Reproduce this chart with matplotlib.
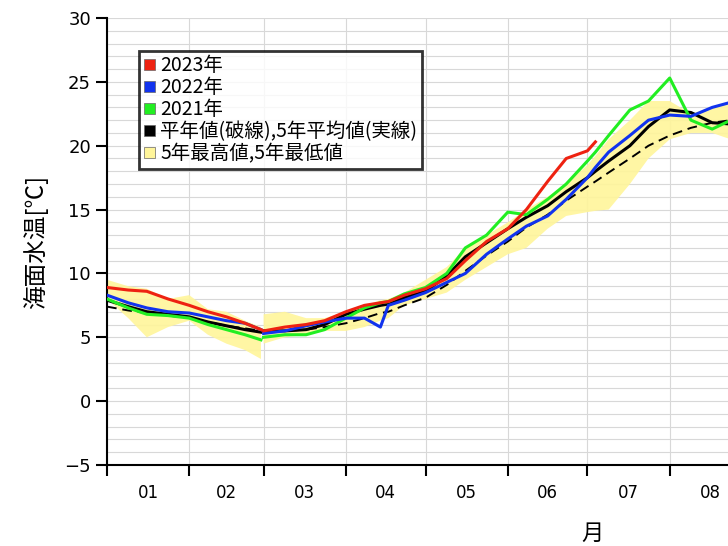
import numpy as np
import matplotlib.pyplot as plt
from matplotlib.patches import Patch

plt.rcParams['font.family'] = ['Noto Sans CJK JP', 'DejaVu Sans']

# day-of-year positions (Jan 1 = 0); NaN marks the break at end of Feb
days = [0, 8, 15, 23, 31, 38, 45, 52, 58, 58.5,
        59, 67, 75, 82, 90, 97, 103, 106, 112, 120, 128, 135, 143, 151, 158, 166,
        173, 181, 184, 189, 197, 204, 212, 220, 228, 235, 243]
nan = np.nan

sst_2023 = [8.9, 8.7, 8.6, 8.0, 7.5, 7.0, 6.6, 6.1, 5.6, nan,
            5.5, 5.8, 6.0, 6.3, 7.0, 7.5, 7.7, 7.8, 8.3, 8.8, 9.6, 11.0, 12.5, 13.5, 15.0, 17.2,
            19.0, 19.6, 20.3, nan, nan, nan, nan, nan, nan, nan, nan]
sst_2022 = [8.3, 7.7, 7.3, 7.0, 6.9, 6.6, 6.3, 6.1, 5.6, nan,
            5.3, 5.5, 5.9, 6.2, 6.5, 6.5, 5.8, 7.5, 7.9, 8.5, 9.3, 10.0, 11.5, 12.7, 13.7, 14.5,
            15.8, 17.5, 18.3, 19.5, 20.8, 22.0, 22.4, 22.3, 23.0, 23.4, 22.6]
sst_2021 = [8.0, 7.3, 6.8, 6.7, 6.5, 6.0, 5.6, 5.2, 4.8, nan,
            5.0, 5.2, 5.2, 5.6, 6.5, 7.3, 7.7, 7.8, 8.4, 8.9, 10.0, 12.0, 13.0, 14.8, 14.6, 15.8,
            17.0, 18.8, 19.5, 20.8, 22.8, 23.5, 25.3, 22.0, 21.3, 22.0, 21.9]
avg5 = [7.9, 7.4, 7.0, 6.8, 6.6, 6.2, 5.9, 5.6, 5.4, nan,
        5.5, 5.5, 5.6, 6.0, 6.8, 7.2, 7.5, 7.6, 8.1, 8.6, 9.8, 11.3, 12.4, 13.5, 14.4, 15.3,
        16.4, 17.5, 18.0, 18.8, 20.0, 21.5, 22.8, 22.6, 21.8, 21.7, 21.9]
normal = [7.4, 7.1, 6.9, 6.7, 6.5, 6.2, 5.9, 5.7, 5.5, 5.5,
          5.5, 5.5, 5.6, 5.8, 6.1, 6.5, 6.9, 7.0, 7.5, 8.1, 9.1, 10.2, 11.4, 12.5, 13.6, 14.6,
          15.7, 16.8, 17.2, 17.9, 19.0, 20.0, 20.8, 21.4, 21.8, 22.0, 22.2]
max5 = [9.5, 9.0, 8.8, 8.0, 8.3, 7.2, 7.0, 6.3, 5.8, nan,
        6.8, 7.0, 6.5, 6.5, 7.0, 7.5, 7.9, 8.0, 8.5, 9.5, 10.5, 12.0, 13.0, 14.0, 15.0, 16.0,
        17.0, 18.5, 19.2, 20.5, 22.0, 23.5, 23.5, 22.5, 23.0, 23.5, 22.5]
min5 = [8.0, 6.5, 5.0, 5.8, 6.3, 5.2, 4.5, 4.0, 3.3, nan,
        4.5, 5.0, 5.2, 5.5, 5.5, 5.8, 6.3, 6.5, 7.5, 8.0, 8.5, 9.5, 10.5, 11.5, 12.0, 13.5,
        14.5, 14.8, 14.9, 15.0, 17.0, 19.0, 20.5, 21.0, 21.0, 20.5, 20.0]

month_edges = [0, 31, 59, 90, 120, 151, 181, 212, 243]
month_labels = ['01', '02', '03', '04', '05', '06', '07', '08']

fig = plt.figure(figsize=(7.28, 5.46), dpi=100)
# axes runs past the right edge of the figure, like the reference
ax = fig.add_axes([107 / 728, 81 / 546, (752 - 107) / 728, (465 - 18) / 546])

x = np.array(days)
lo, hi = np.array(min5), np.array(max5)
ax.fill_between(x, lo, hi, where=~np.isnan(lo), color='#fff59a', alpha=0.9, lw=0, zorder=1)
ax.plot(x, normal, color='black', lw=1.4, ls=(0, (5, 3)), zorder=3)
ax.plot(x, avg5, color='black', lw=2.2, zorder=3)
ax.plot(x, sst_2021, color='#22ee22', lw=2.2, zorder=4)
ax.plot(x, sst_2022, color='#1133ee', lw=2.2, zorder=4)
ax.plot(x, sst_2023, color='#ee2211', lw=2.2, zorder=5)

ax.set_xlim(0, 243)
ax.set_ylim(-5, 30)
ax.set_yticks(range(-5, 31, 5))
ax.set_yticklabels(['\u22125'] + [str(v) for v in range(0, 31, 5)], fontfamily='DejaVu Sans')
ax.set_yticks(range(-5, 31), minor=True)
ax.set_xticks(month_edges)
ax.set_xticklabels([])
ax.set_xticks([(a + b) / 2 for a, b in zip(month_edges[:-1], month_edges[1:])], minor=True)
ax.set_xticklabels(month_labels, minor=True, fontfamily='DejaVu Sans')
ax.tick_params(axis='x', which='minor', length=0, pad=14, labelsize=12)
ax.tick_params(axis='x', which='major', length=8, width=1.5, direction='out')
ax.tick_params(axis='y', which='major', length=8, width=1.5, labelsize=13)
ax.tick_params(axis='y', which='minor', length=0)
ax.grid(True, axis='y', which='both', color='#d8d8d8', lw=0.8)
ax.grid(True, axis='x', which='major', color='#d8d8d8', lw=0.8)
ax.set_axisbelow(True)
for side in ['top', 'right']:
    ax.spines[side].set_visible(False)
for side in ['left', 'bottom']:
    ax.spines[side].set_linewidth(1.5)

ax.set_ylabel('海面水温[℃]', fontsize=17, labelpad=12)
fig.text(592 / 728, 1 - 533 / 546, '月', fontsize=16, ha='center', va='center')

handles = [Patch(facecolor=c, edgecolor='#666666', lw=0.5) for c in
           ['#ee2211', '#1133ee', '#22ee22', 'black', '#fff59a']]
labels = ['2023年', '2022年', '2021年', '平年値(破線),5年平均値(実線)', '5年最高値,5年最低値']
leg = ax.legend(handles, labels, loc='upper left', bbox_to_anchor=(32 / 645, 0.927),
                frameon=True, fancybox=False, edgecolor='black', fontsize=14,
                handlelength=0.55, handleheight=0.55, handletextpad=0.3, labelspacing=0.05,
                borderpad=0.25, borderaxespad=0)
leg.get_frame().set_linewidth(2)

fig.savefig('out.png', dpi=100)
